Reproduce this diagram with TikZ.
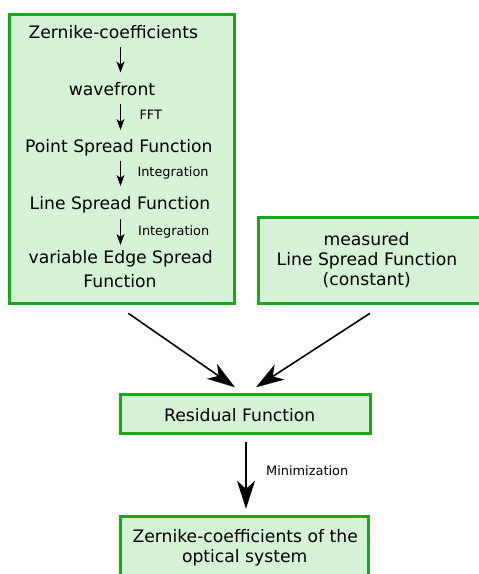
\documentclass[tikz,border=0pt]{standalone}
\usepackage{fontspec}
\setmainfont{DejaVu Sans}
\usetikzlibrary{arrows.meta}
\definecolor{boxline}{HTML}{18A818}
\definecolor{boxfill}{HTML}{D6F2D6}
\tikzset{
  box/.style={draw=boxline, fill=boxfill, line width=3pt},
  bigtxt/.style={font=\fontsize{17.2}{23}\selectfont, inner sep=0pt, anchor=base, align=center},
  smalltxt/.style={font=\fontsize{12.9}{16}\selectfont, inner sep=0pt, anchor=base west},
  smallarrow/.style={line width=1pt, -{Stealth[length=11pt,width=8pt,inset=3pt]}},
  bigarrow/.style={line width=1.6pt, -{Stealth[length=28pt,width=18pt,inset=8pt]}},
}
\begin{document}
\begin{tikzpicture}[x=1pt,y=-1pt]
\useasboundingbox (0,0) rectangle (479,574);
% boxes
\draw[box] (9.5,14) rectangle (234.5,303.5);
\draw[box] (258.5,217.5) rectangle (484,303.5);
\draw[box] (120.8,394.2) rectangle (370.2,433.5);
\draw[box] (120.8,516.5) rectangle (368,580);
% left box texts
\node[bigtxt] (zc) at (113.3,38.3) {Zernike-coefficients};
\node[bigtxt] (wf) at (112,95.7) {wavefront};
\node[bigtxt] (psf) at (118.8,152.7) {Point Spread Function};
\node[bigtxt] (lsf) at (120,209) {Line Spread Function};
\node[bigtxt] (esf1) at (120.7,263.5) {variable Edge Spread};
\node[bigtxt] (esf2) at (120,287) {Function};
\node[smalltxt] (fft) at (139.3,119) {FFT};
\node[smalltxt] (int1) at (137.3,176.7) {Integration};
\node[smalltxt] (int2) at (138,235.7) {Integration};
% right box texts
\node[bigtxt] (m1) at (366.5,245.7) {measured};
\node[bigtxt] (m2) at (367,265.7) {Line Spread Function};
\node[bigtxt] (m3) at (366.8,285.7) {(constant)};
% residual
\node[bigtxt] (res) at (239.7,421.7) {Residual Function};
\node[smalltxt] (min) at (266,475) {Minimization};
% result
\node[bigtxt] (out1) at (245.2,542.3) {Zernike-coefficients of the};
\node[bigtxt] (out2) at (244.7,562.3) {optical system};
% connector coordinates
\coordinate (a1s) at (120.5,47);  \coordinate (a1e) at (120.5,72.5);
\coordinate (a2s) at (120.5,104); \coordinate (a2e) at (120.5,130);
\coordinate (a3s) at (120.5,161); \coordinate (a3e) at (120.5,186);
\coordinate (a4s) at (120.5,219); \coordinate (a4e) at (120.5,245);
\coordinate (bls) at (128.3,313.3); \coordinate (ble) at (235,387.3);
\coordinate (brs) at (370,313.3);   \coordinate (bre) at (256,387.3);
\coordinate (bds) at (246,442.3);   \coordinate (bde) at (246,508.8);
% arrows
\draw[smallarrow] (a1s) -- (a1e);
\draw[smallarrow] (a2s) -- (a2e);
\draw[smallarrow] (a3s) -- (a3e);
\draw[smallarrow] (a4s) -- (a4e);
\draw[bigarrow] (bls) -- (ble);
\draw[bigarrow] (brs) -- (bre);
\draw[bigarrow] (bds) -- (bde);
\end{tikzpicture}
\end{document}
